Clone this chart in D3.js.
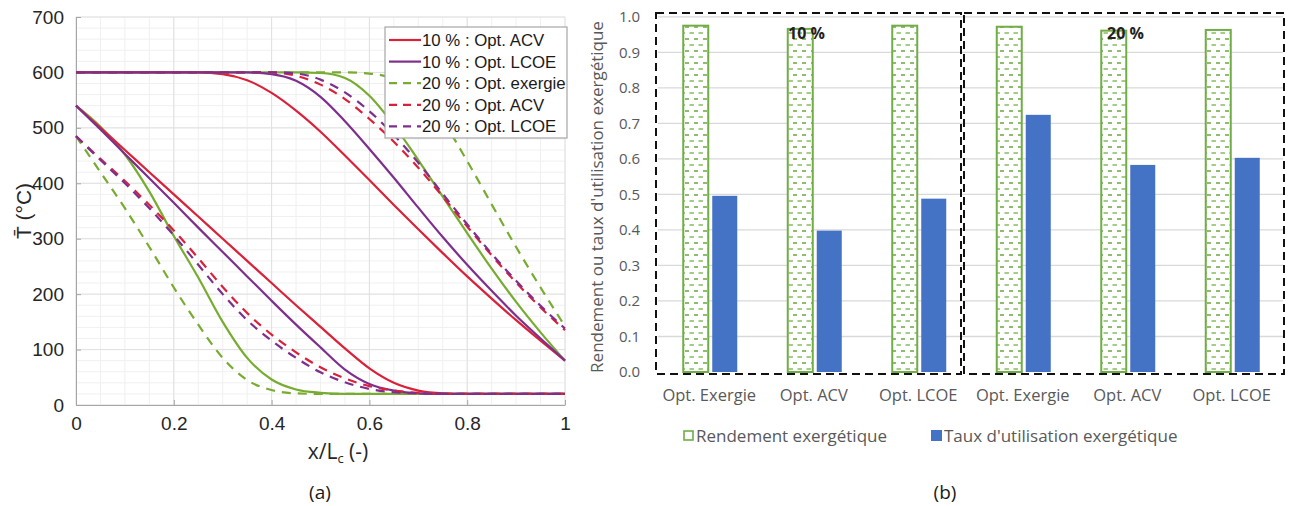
<!DOCTYPE html>
<html><head><meta charset="utf-8">
<script src="https://cdn.jsdelivr.net/npm/d3@7"></script>
<style>
body{margin:0;background:#fff;}
svg{display:block;}
</style>
</head><body>
<svg id="chart" width="1290" height="506"></svg>
<script>
// ---------- (a) temperature profiles ----------
const xPos = [0,0.05,0.10,0.15,0.20,0.25,0.30,0.35,0.40,0.45,0.50,0.55,0.60,0.65,0.70,0.75,0.80,0.85,0.90,0.95,1.00];
// hot side (start 600)
const greenHot10  = [600,600,600,600,600,600,600,600,600,600,599,590,558,505,442,376,310,246,186,131,80];
const redHot10    = [600,600,600,600,600,600,597,586,563,531,493,450,406,361,317,274,232,192,153,116,80];
const purpleHot10 = [600,600,600,600,600,600,600,600,597,585,556,512,462,410,356,303,253,206,161,120,80];
const greenHot20  = [600,600,600,600,600,600,600,600,600,600,600,600,598,588,560,512,440,362,285,212,142];
const redHot20    = [600,600,600,600,600,600,600,600,600,594,578,552,516,475,428,376,322,270,221,176,135];
const purpleHot20 = [600,600,600,600,600,600,600,600,600,598,587,564,530,487,437,381,326,273,224,179,138];
// cold side
const greenCold10  = [540,502,452,385,305,230,150,85,46,28,22,20,20,20,20,20,20,20,20,20,20];
const redCold10    = [540,500,460,420,380,340,300,260,220,180,141,102,66,40,26,21,20,20,20,20,20];
const purpleCold10 = [540,497,453,409,365,320,276,232,188,145,104,64,38,26,21,20,20,20,20,20,20];
const greenCold20  = [485,420,355,285,212,145,85,45,27,21,20,20,20,20,20,20,20,20,20,20,20];
const redCold20    = [485,444,404,361,315,265,213,166,127,95,68,48,34,26,22,20,20,20,20,20,20];
const purpleCold20 = [485,442,400,355,306,253,200,153,116,85,59,41,29,23,21,20,20,20,20,20,20];

const yTicksA = [0,100,200,300,400,500,600,700];
const xTicksA = [0,0.2,0.4,0.6,0.8,1];
const legendA = ["10 % : Opt. ACV","10 % : Opt. LCOE","20 % : Opt. exergie","20 % : Opt. ACV","20 % : Opt. LCOE"];

// ---------- (b) exergy bars ----------
const categoriesB = ["Opt. Exergie","Opt. ACV","Opt. LCOE","Opt. Exergie","Opt. ACV","Opt. LCOE"];
const rendement = [0.975,0.966,0.975,0.972,0.961,0.963];
const tauxUtil  = [0.496,0.398,0.488,0.724,0.583,0.603];
const groupLabels = ["10 %","20 %"];
const yTicksB = [0,0.1,0.2,0.3,0.4,0.5,0.6,0.7,0.8,0.9,1.0];
const legendB = ["Rendement exergétique","Taux d'utilisation exergétique"];

const RED="#d9213a", PURPLE="#7e2f8e", GREEN="#77ac30";
const svg = d3.select("#chart");
const defs = svg.append("defs");

// ===== Panel (a) =====
const xA = d3.scaleLinear().domain([0,1]).range([76,565]);
const yA = d3.scaleLinear().domain([0,700]).range([405,17]);
const gA = svg.append("g");

// minor grid
gA.append("g").selectAll("line").data(d3.range(0,1.0001,0.05)).join("line")
  .attr("x1",d=>xA(d)).attr("x2",d=>xA(d)).attr("y1",yA(0)).attr("y2",yA(700))
  .attr("stroke","#f0f0f0").attr("stroke-width",1);
gA.append("g").selectAll("line").data(d3.range(0,701,20)).join("line")
  .attr("x1",xA(0)).attr("x2",xA(1)).attr("y1",d=>yA(d)).attr("y2",d=>yA(d))
  .attr("stroke","#f0f0f0").attr("stroke-width",1);
// major grid
gA.append("g").selectAll("line").data(xTicksA).join("line")
  .attr("x1",d=>xA(d)).attr("x2",d=>xA(d)).attr("y1",yA(0)).attr("y2",yA(700))
  .attr("stroke","#e0e0e0").attr("stroke-width",1);
gA.append("g").selectAll("line").data(yTicksA).join("line")
  .attr("x1",xA(0)).attr("x2",xA(1)).attr("y1",d=>yA(d)).attr("y2",d=>yA(d))
  .attr("stroke","#e0e0e0").attr("stroke-width",1);

// axes
const axL = gA.append("g").attr("transform",`translate(${xA(0)},0)`)
  .call(d3.axisLeft(yA).tickValues(yTicksA).tickSize(-5).tickSizeOuter(0).tickPadding(12).tickFormat(d3.format("d")));
const axB = gA.append("g").attr("transform",`translate(0,${yA(0)})`)
  .call(d3.axisBottom(xA).tickValues(xTicksA).tickSize(-5).tickSizeOuter(0).tickPadding(12).tickFormat(d=>d3.format("~g")(d)));
[axL,axB].forEach(ax=>{
  ax.select(".domain").attr("stroke","#a6a6a6");
  ax.selectAll(".tick line").attr("stroke","#a6a6a6");
  ax.selectAll("text").attr("fill","#262626").style("font-family","'Liberation Sans',Arial,sans-serif").style("font-size","19px");
});

// curves
const line = d3.line().x((d,i)=>xA(xPos[i])).y(d=>yA(d)).curve(d3.curveMonotoneX);
const curvesA = [
  {v:greenCold10,c:GREEN,dash:null},{v:greenHot10,c:GREEN,dash:null},
  {v:redCold10,c:RED,dash:null},{v:redHot10,c:RED,dash:null},
  {v:purpleCold10,c:PURPLE,dash:null},{v:purpleHot10,c:PURPLE,dash:null},
  {v:greenCold20,c:GREEN,dash:"9,7"},{v:greenHot20,c:GREEN,dash:"9,7"},
  {v:redCold20,c:RED,dash:"9,7"},{v:redHot20,c:RED,dash:"9,7"},
  {v:purpleCold20,c:PURPLE,dash:"9,7"},{v:purpleHot20,c:PURPLE,dash:"9,7"}
];
gA.append("g").selectAll("path").data(curvesA).join("path")
  .attr("d",d=>line(d.v)).attr("fill","none").attr("stroke",d=>d.c)
  .attr("stroke-width",2.2).attr("stroke-dasharray",d=>d.dash);

// legend (a)
const legA = gA.append("g");
legA.append("rect").attr("x",385).attr("y",27).attr("width",182).attr("height",111)
  .attr("fill","#fff").attr("stroke","#a6a6a6").attr("stroke-width",1.2);
const legStyles = [{c:RED,dash:null},{c:PURPLE,dash:null},{c:GREEN,dash:"8,6"},{c:RED,dash:"8,6"},{c:PURPLE,dash:"8,6"}];
legendA.forEach((t,i)=>{
  const yy = 40 + i*21.6;
  legA.append("line").attr("x1",389).attr("x2",421).attr("y1",yy).attr("y2",yy)
    .attr("stroke",legStyles[i].c).attr("stroke-width",2.2).attr("stroke-dasharray",legStyles[i].dash);
  legA.append("text").attr("x",422).attr("y",yy+6).text(t)
    .attr("fill","#1a1a1a").style("font-family","'Liberation Sans',Arial,sans-serif").style("font-size","16.8px");
});

// axis titles (a)
gA.append("text").attr("transform","translate(31,211) rotate(-90)").attr("text-anchor","middle")
  .style("font-family","'Liberation Sans',Arial,sans-serif").style("font-size","21px").attr("fill","#262626")
  .text("T\u0304 (°C)");
const xt = gA.append("text").attr("x",338).attr("y",459).attr("text-anchor","middle")
  .style("font-family","'Open Sans',sans-serif").style("font-size","21px").attr("fill","#262626");
xt.append("tspan").text("x/L");
xt.append("tspan").text("c").attr("dy",4).style("font-size","13px");
xt.append("tspan").text(" (-)").attr("dy",-4);
gA.append("text").attr("x",320).attr("y",499).attr("text-anchor","middle")
  .style("font-family","'Open Sans',sans-serif").style("font-size","19px").attr("fill","#1a1a1a").text("(a)");

// ===== Panel (b) =====
const xB = d3.scaleBand().domain(d3.range(categoriesB.length)).range([656,1283]);
const x1 = d3.scaleBand().domain(["r","t"]).range([xB.bandwidth()/2-25, xB.bandwidth()/2+29]).paddingInner(4/29);
const yB = d3.scaleLinear().domain([0,1]).range([372,16.8]);
const gB = svg.append("g");

// pattern
const pat = defs.append("pattern").attr("id","dashpat").attr("patternUnits","userSpaceOnUse")
  .attr("width",9).attr("height",12);
pat.append("rect").attr("width",9).attr("height",12).attr("fill","#fff");
pat.append("line").attr("x1",1).attr("x2",5).attr("y1",3).attr("y2",3).attr("stroke","#70ad47").attr("stroke-width",1.6);
pat.append("line").attr("x1",5.5).attr("x2",9).attr("y1",9).attr("y2",9).attr("stroke","#8cc06a").attr("stroke-width",1.6);
pat.append("line").attr("x1",0).attr("x2",1).attr("y1",9).attr("y2",9).attr("stroke","#8cc06a").attr("stroke-width",1.6);

// grid
gB.append("g").selectAll("line").data(yTicksB.slice(1)).join("line")
  .attr("x1",658).attr("x2",1283).attr("y1",d=>yB(d)).attr("y2",d=>yB(d))
  .attr("stroke","#d9d9d9").attr("stroke-width",1.3);
// y tick labels
const axBL = gB.append("g").attr("transform","translate(656,0)")
  .call(d3.axisLeft(yB).tickValues(yTicksB).tickSize(0).tickPadding(16).tickFormat(d3.format(".1f")));
axBL.select(".domain").remove();
axBL.selectAll("text").attr("fill","#595959").style("font-family","'Open Sans',sans-serif").style("font-size","15px");

// bars
const gBars = gB.append("g");
categoriesB.forEach((c,i)=>{
  const gx = xB(i);
  gBars.append("rect").attr("x",gx+x1("r")).attr("width",x1.bandwidth())
    .attr("y",yB(rendement[i])).attr("height",yB(0)-yB(rendement[i]))
    .attr("fill","url(#dashpat)").attr("stroke","#70ad47").attr("stroke-width",2);
  gBars.append("rect").attr("x",gx+x1("t")).attr("width",x1.bandwidth())
    .attr("y",yB(tauxUtil[i])).attr("height",yB(0)-yB(tauxUtil[i]))
    .attr("fill","#4472c4");
});

// dashed group boxes
const boxStyle = s=>s.attr("fill","none").attr("stroke","#111").attr("stroke-width",2).attr("stroke-dasharray","8,5");
boxStyle(gB.append("rect").attr("x",656).attr("y",13).attr("width",305).attr("height",361));
boxStyle(gB.append("rect").attr("x",964).attr("y",13).attr("width",320).attr("height",361));

// group labels
groupLabels.forEach((t,k)=>{
  gB.append("text").attr("x",k===0?788:1107).attr("y",39).text(t)
    .style("font-family","'Open Sans',sans-serif").style("font-weight","bold").style("font-size","16px").attr("fill","#222");
});

// category labels
const axBB = gB.append("g").attr("transform","translate(0,385)")
  .call(d3.axisBottom(xB).tickSize(0).tickPadding(4).tickFormat(i=>categoriesB[i]));
axBB.select(".domain").remove();
axBB.selectAll("text").attr("fill","#595959").style("font-family","'Open Sans',sans-serif").style("font-size","16.5px");
axBB.selectAll(".tick").attr("transform",(d)=>`translate(${xB(d)+xB.bandwidth()/2+1},0)`);

// y title
gB.append("text").attr("transform","translate(603,197) rotate(-90)").attr("text-anchor","middle")
  .style("font-family","'Open Sans',sans-serif").style("font-size","17px").attr("fill","#595959")
  .text("Rendement ou taux d'utilisation exergétique");

// legend b
gB.append("rect").attr("x",684).attr("y",431).attr("width",9).attr("height",9)
  .attr("fill","#fff").attr("stroke","#70ad47").attr("stroke-width",1.6);
gB.append("text").attr("x",696).attr("y",442).text(legendB[0])
  .style("font-family","'Open Sans',sans-serif").style("font-size","17px").attr("fill","#595959");
gB.append("rect").attr("x",931).attr("y",430).attr("width",11).attr("height",11).attr("fill","#4472c4");
gB.append("text").attr("x",944).attr("y",442).text(legendB[1])
  .style("font-family","'Open Sans',sans-serif").style("font-size","17px").attr("fill","#595959");

gB.append("text").attr("x",945).attr("y",499).attr("text-anchor","middle")
  .style("font-family","'Open Sans',sans-serif").style("font-size","19px").attr("fill","#1a1a1a").text("(b)");
</script>
</body></html>
